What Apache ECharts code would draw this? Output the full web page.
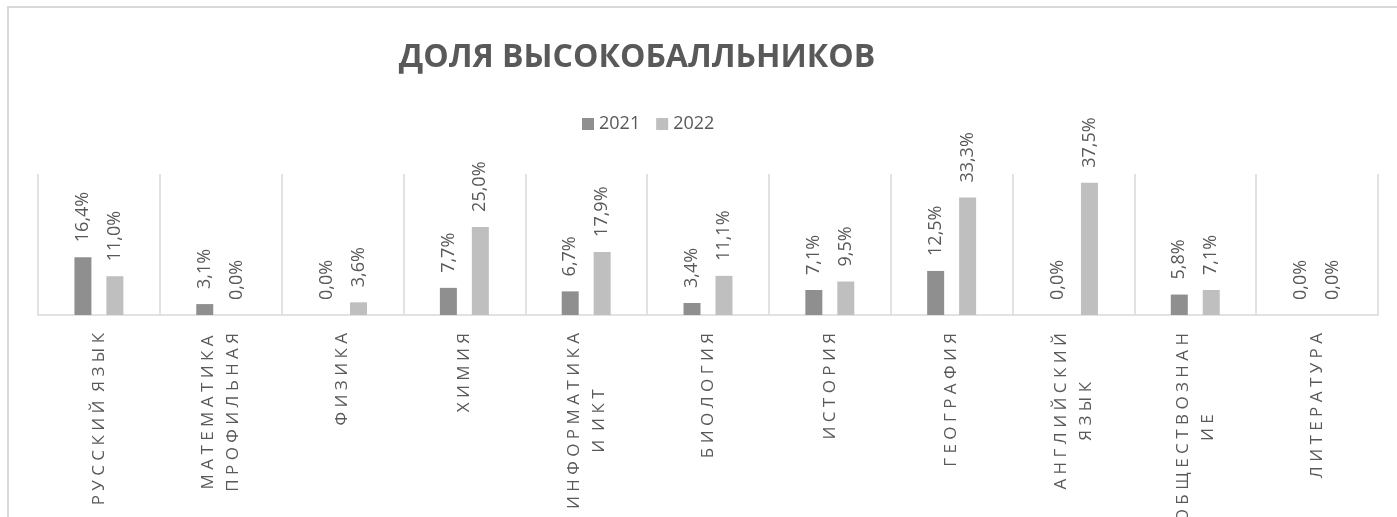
<!DOCTYPE html>
<html>
<head>
<meta charset="utf-8">
<script src="https://cdn.jsdelivr.net/npm/echarts@6/dist/echarts.min.js"></script>
<style>
  html, body { margin: 0; padding: 0; background: #fff; }
  #chart { width: 1397px; height: 517px; }
</style>
</head>
<body>
<div id="chart"></div>
<script>
const titleText = 'ДОЛЯ ВЫСОКОБАЛЛЬНИКОВ';
const seriesNames = ['2021', '2022'];
const categories = [
  'РУССКИЙ ЯЗЫК',
  'МАТЕМАТИКА\nПРОФИЛЬНАЯ',
  'ФИЗИКА',
  'ХИМИЯ',
  'ИНФОРМАТИКА\nИ ИКТ',
  'БИОЛОГИЯ',
  'ИСТОРИЯ',
  'ГЕОГРАФИЯ',
  'АНГЛИЙСКИЙ\nЯЗЫК',
  'ОБЩЕСТВОЗНАН\nИЕ',
  'ЛИТЕРАТУРА',
];
const values2021 = [16.4, 3.1, 0.0, 7.7, 6.7, 3.4, 7.1, 12.5, 0.0, 5.8, 0.0];
const values2022 = [11.0, 0.0, 3.6, 25.0, 17.9, 11.1, 9.5, 33.3, 37.5, 7.1, 0.0];

const FONT = 'Open Sans';
const TEXT = '#595959';
const LINE = '#d9d9d9';

// excel-style letter spacing, faked with spaces
function spread(s, gap, wordGap) {
  return s.split(' ').map(w => w.split('').join(gap)).join(wordGap);
}

const pct = p => p.value.toFixed(1).replace('.', ',') + '%';

const dataLabel = {
  show: true,
  position: 'top',
  rotate: 90,
  align: 'left',
  verticalAlign: 'middle',
  distance: 15,
  fontFamily: FONT,
  fontSize: 18,
  color: TEXT,
  formatter: pct,
};

const chart = echarts.init(document.getElementById('chart'));

chart.setOption({
  animation: false,
  graphic: [
    {
      type: 'rect',
      shape: { x: 8, y: 7, width: 1400, height: 520 },
      style: { fill: 'none', stroke: LINE, lineWidth: 2 },
      silent: true,
    },
  ],
  title: {
    text: titleText,
    left: 632,
    textAlign: 'center',
    top: 37,
    textStyle: {
      fontFamily: FONT,
      fontSize: 32,
      fontWeight: 'bold',
      color: TEXT,
    },
  },
  legend: {
    data: seriesNames,
    left: 577,
    top: 110,
    icon: 'rect',
    itemWidth: 12,
    itemHeight: 12,
    itemGap: 16,
    textStyle: { fontFamily: FONT, fontSize: 18, color: TEXT },
  },
  grid: {
    left: 38,
    right: 19,
    top: 174,
    bottom: 202,
    containLabel: false,
    outerBoundsMode: 'none',
  },
  xAxis: {
    type: 'category',
    data: categories,
    axisLine: { lineStyle: { color: LINE, width: 1.5 } },
    axisTick: { show: false },
    splitLine: { show: true, lineStyle: { color: LINE, width: 1.5 } },
    axisLabel: {
      interval: 0,
      rotate: 90,
      margin: 18,
      formatter: v => v.split('\n').map(l => '{c|' + spread(l, ' ', '  ') + '}').join('\n'),
      rich: {
        c: {
          align: 'center',
          fontFamily: FONT,
          fontSize: 17,
          lineHeight: 25,
          color: TEXT,
        },
      },
    },
  },
  yAxis: {
    type: 'value',
    min: 0,
    max: 40,
    show: false,
  },
  series: [
    {
      name: seriesNames[0],
      type: 'bar',
      data: values2021,
      barWidth: 17,
      barGap: '88%',
      itemStyle: { color: '#8f8f8f' },
      label: dataLabel,
    },
    {
      name: seriesNames[1],
      type: 'bar',
      data: values2022,
      barWidth: 17,
      barGap: '88%',
      itemStyle: { color: '#bfbfbf' },
      label: dataLabel,
    },
  ],
});
</script>
</body>
</html>
